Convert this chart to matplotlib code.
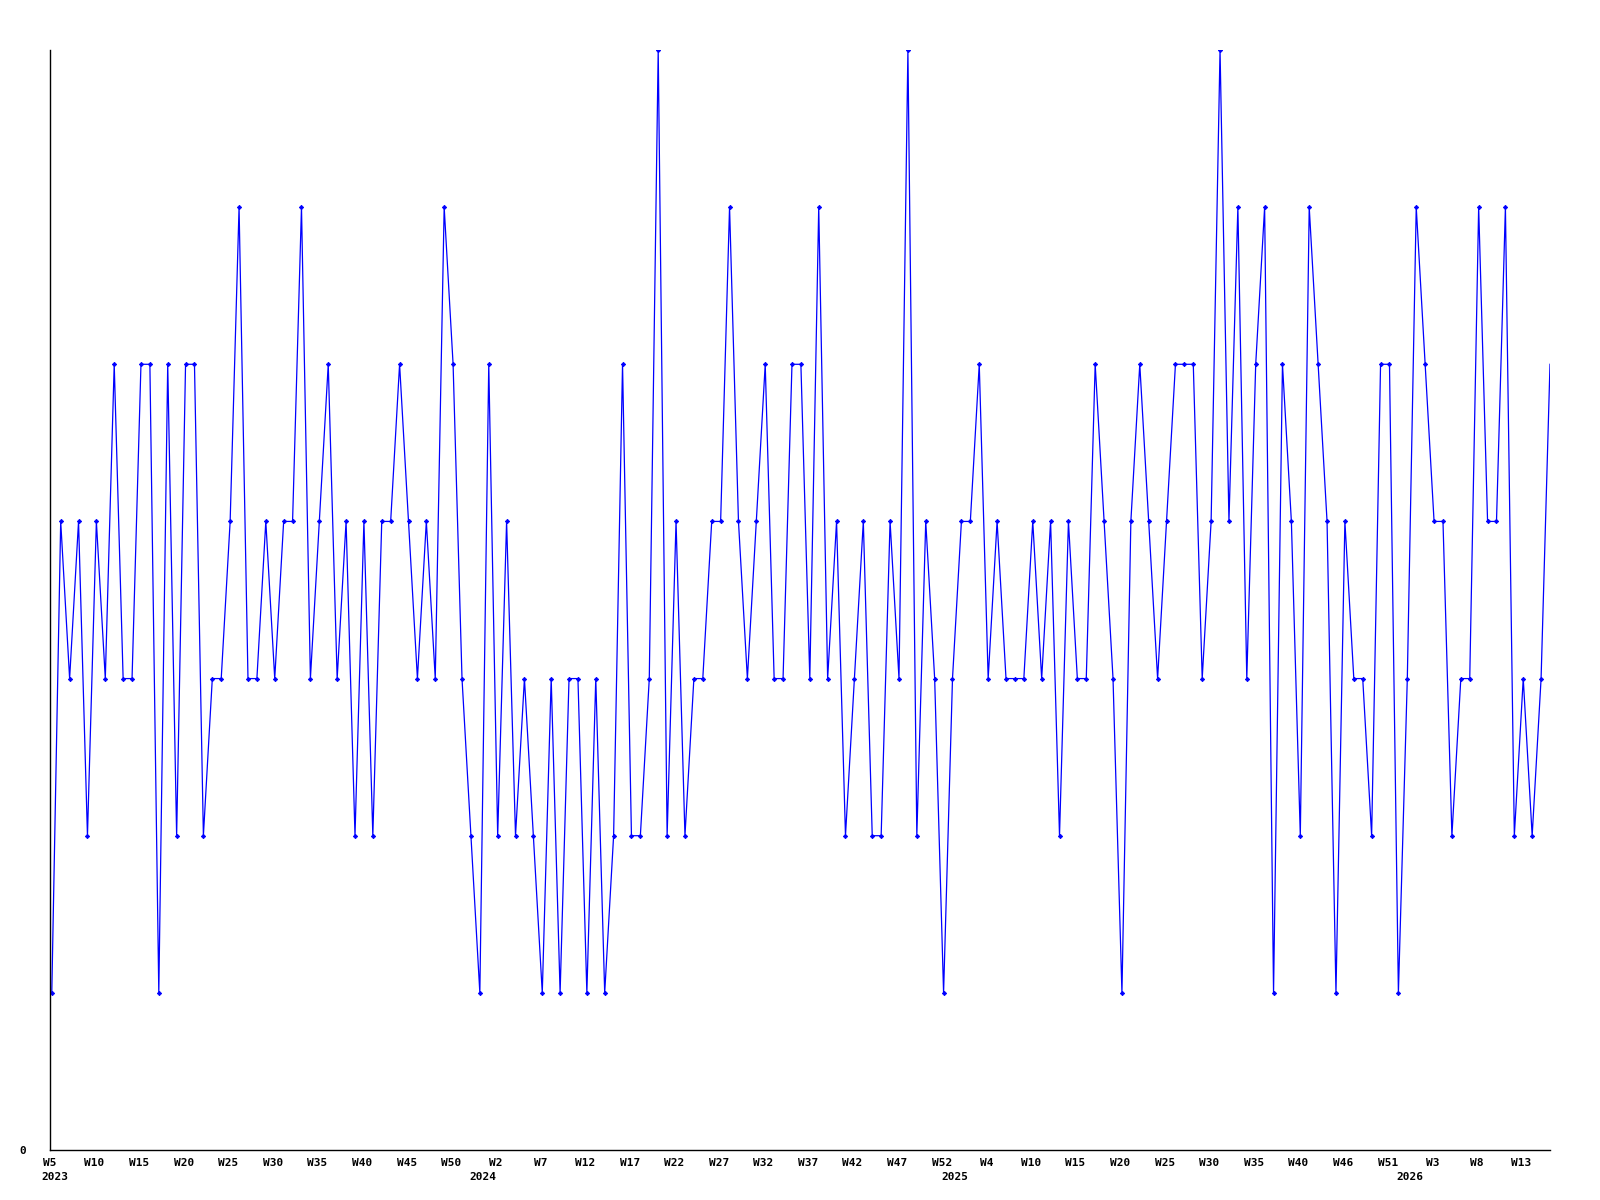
import matplotlib
matplotlib.use("Agg")
import matplotlib.pyplot as plt

# weekly values, 2023 W5 .. 2026 W16
values = [
    1, 4, 3, 4, 2, 4, 3, 5, 3, 3,
    5, 5, 1, 5, 2, 5, 5, 2, 3, 3,
    4, 6, 3, 3, 4, 3, 4, 4, 6, 3,
    4, 5, 3, 4, 2, 4, 2, 4, 4, 5,
    4, 3, 4, 3, 6, 5, 3, 2, 1, 5,
    2, 4, 2, 3, 2, 1, 3, 1, 3, 3,
    1, 3, 1, 2, 5, 2, 2, 3, 7, 2,
    4, 2, 3, 3, 4, 4, 6, 4, 3, 4,
    5, 3, 3, 5, 5, 3, 6, 3, 4, 2,
    3, 4, 2, 2, 4, 3, 7, 2, 4, 3,
    1, 3, 4, 4, 5, 3, 4, 3, 3, 3,
    4, 3, 4, 2, 4, 3, 3, 5, 4, 3,
    1, 4, 5, 4, 3, 4, 5, 5, 5, 3,
    4, 7, 4, 6, 3, 5, 6, 1, 5, 4,
    2, 6, 5, 4, 1, 4, 3, 3, 2, 5,
    5, 1, 3, 6, 5, 4, 4, 2, 3, 3,
    6, 4, 4, 6, 2, 3, 2, 3, 5,
]

week_labels = ["W5", "W10", "W15", "W20", "W25", "W30", "W35", "W40", "W45", "W50",
               "W2", "W7", "W12", "W17", "W22", "W27", "W32", "W37", "W42", "W47",
               "W52", "W4", "W10", "W15", "W20", "W25", "W30", "W35", "W40", "W46",
               "W51", "W3", "W8", "W13"]
years = ["2023", "2024", "2025", "2026"]
year_pos = [0.35, 48.3, 101.3, 152.3]

x = list(range(len(values)))

fig = plt.figure(figsize=(16, 12), dpi=100)
ax = fig.add_axes([50 / 1600, 50 / 1200, 1500 / 1600, 1100 / 1200])

ax.plot(x, values, color="#0000ff", lw=0.9, marker="D", ms=2.2, mew=0.6,
        markevery=list(range(len(values) - 1)))

ax.set_xlim(0, len(values) - 1)
ax.set_ylim(0, 7)
for s in ["top", "right"]:
    ax.spines[s].set_visible(False)
ax.spines["left"].set_linewidth(1)
ax.spines["bottom"].set_linewidth(1)

font = dict(family="DejaVu Sans Mono", fontweight="bold", fontsize=8)

ax.set_yticks([0])
ax.set_yticklabels(["0"], **font)
ax.tick_params(axis="y", length=0, pad=17.5)

ax.set_xticks([i * 5 - 0.2 for i in range(len(week_labels))])
ax.set_xticklabels(week_labels, **font)
ax.tick_params(axis="x", length=0, pad=6)

for yr, p in zip(years, year_pos):
    ax.text(p, -0.17, yr, ha="center", va="center", **font)

fig.savefig("out.png", dpi=100)
